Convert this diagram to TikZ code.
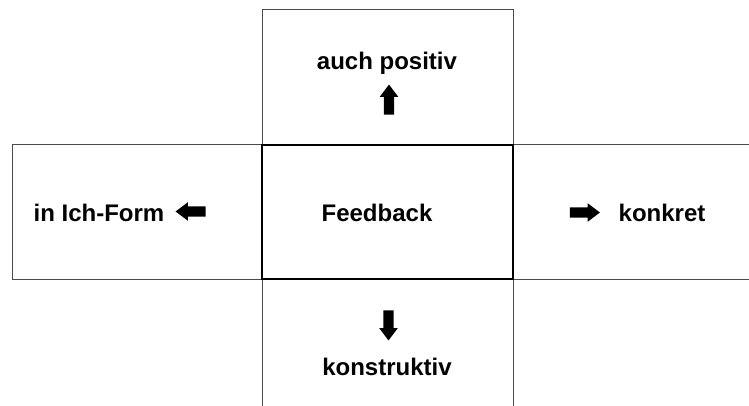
\documentclass[tikz,border=0pt]{standalone}
\usepackage{fontspec}
\setmainfont{Liberation Sans}
\usetikzlibrary{shapes.arrows}
\begin{document}
\begin{tikzpicture}[x=1pt,y=-1pt,
  outerbox/.style={draw=black!70, line width=1pt, inner sep=0pt, outer sep=0pt, anchor=north west},
  centerbox/.style={draw=black, line width=1.1pt, inner sep=0pt, outer sep=0pt, anchor=north west},
  lbl/.style={font=\fontsize{24}{28}\selectfont\bfseries, anchor=base, inner sep=0pt},
  blockarrow/.style={single arrow, fill=black, draw=none, minimum height=30pt,
    inner xsep=0pt, inner ysep=5pt, single arrow head extend=4pt,
    single arrow tip angle=74}]
\useasboundingbox (0,0) rectangle (749,406);
% boxes
\node[outerbox, minimum width=251pt, minimum height=135pt] (top) at (262,10) {};
\node[outerbox, minimum width=250pt, minimum height=134pt] (left) at (12,145) {};
\node[outerbox, minimum width=260pt, minimum height=134pt] (right) at (513,145) {};
\node[outerbox, minimum width=251pt, minimum height=140pt] (bottom) at (262,279) {};
\node[centerbox, minimum width=251pt, minimum height=134pt] (center) at (262,145) {};
% labels
\node[lbl] (pos) at (387,70) {auch positiv};
\node[lbl] (ich) at (99,222) {in Ich-Form};
\node[lbl] (fb) at (377,222) {Feedback};
\node[lbl] (kon) at (662,222) {konkret};
\node[lbl] (kons) at (387,375) {konstruktiv};
% block arrows
\node[blockarrow, rotate=90] (aup) at (389,103) {};
\node[blockarrow, rotate=180] (aleft) at (194,211.5) {};
\node[blockarrow] (aright) at (581.5,212.5) {};
\node[blockarrow, rotate=-90] (adown) at (388.5,322) {};
\end{tikzpicture}
\end{document}
